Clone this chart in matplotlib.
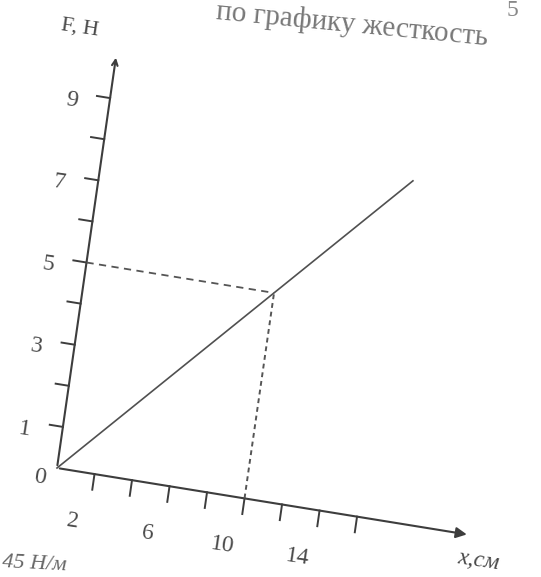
import numpy as np
import matplotlib
matplotlib.use("Agg")
import matplotlib.pyplot as plt
from matplotlib.transforms import Affine2D
from matplotlib.patches import FancyArrowPatch

# --- data (x in cm, F in N) ---
x_line = [0, 16.4]
F_line = [0, 8.2]
x_point = 10
F_point = 5
x_ticks = [2, 4, 6, 8, 10, 12, 14, 16]
x_ticklabels = ['2', '6', '10', '14']
F_ticks = [1, 2, 3, 4, 5, 6, 7, 8, 9]
F_ticklabels = ['1', '3', '5', '7', '9']
x_max = 22.0
F_max = 10.05

ink = '#3d3d3d'
txt = '#4a4a4a'
serif = 'Liberation Serif'

fig = plt.figure(figsize=(5.41, 5.77), dpi=100)
fig.patch.set_facecolor('white')
ax = fig.add_axes([0, 0, 1, 1])
ax.set_xlim(0, 541)
ax.set_ylim(577, 0)
ax.axis('off')

# skewed (scanned) chart frame: (x cm, F N) -> page pixels
ex = 19.0 * np.array([0.987, 0.160])
eF = np.array([5.9, -41.1])
org = (57, 468)
T = Affine2D(np.array([[ex[0], eF[0], org[0]],
                       [ex[1], eF[1], org[1]],
                       [0, 0, 1]])) + ax.transData

# axes with arrows
ax.add_patch(FancyArrowPatch((0, 0), (x_max, 0), transform=T, arrowstyle='-|>',
                             mutation_scale=16, lw=1.5, color=ink))
ax.add_patch(FancyArrowPatch((0, 0), (0, F_max), transform=T, arrowstyle='->',
                             mutation_scale=10, lw=1.5, color=ink))

# ticks
for v in x_ticks:
    ax.plot([v, v], [0, -0.38], transform=T, color=ink, lw=1.4)
for v in F_ticks:
    ax.plot([0, -0.7], [v, v], transform=T, color=ink, lw=1.4)

rot = -8.5
for s in x_ticklabels:
    ax.text(float(s) - 0.8, -1.2, s, transform=T, ha='center', va='center',
            fontsize=17, family=serif, color=txt, rotation=rot)
for s in F_ticklabels:
    ax.text(-2.0, float(s) - 0.2, s, transform=T, ha='center', va='center',
            fontsize=17, family=serif, color=txt, rotation=rot)
ax.text(-0.8, -0.3, '0', transform=T, ha='center', va='center',
        fontsize=17, family=serif, color=txt, rotation=rot)

ax.text(-2.1, 10.55, 'F, H', transform=T, ha='center', va='center',
        fontsize=16, family=serif, color=txt, rotation=rot)
ax.text(21.5, -0.66, 'x,см', transform=T, ha='left', va='center',
        fontsize=17, family=serif, style='italic', color=txt, rotation=rot)

# graph line and dashed guides
ax.plot(x_line, F_line, transform=T, color='#505050', lw=1.2)
ax.plot([0, x_point], [F_point, F_point], transform=T, color='#555555', lw=1.3,
        dashes=(4, 3))
ax.plot([x_point, x_point], [0, F_point], transform=T, color='#555555', lw=1.4,
        dashes=(2.5, 2))

# fragments of the page text around the figure
ax.text(216, 12, 'по графику жесткость', ha='left', va='center', fontsize=21,
        family=serif, color='#777777', rotation=-5.5, rotation_mode='anchor')
ax.text(512, 10, '5', ha='center', va='center', fontsize=17,
        family=serif, color='#888888')
ax.text(2, 564, '45 Н/м', ha='left', va='center', fontsize=16,
        family=serif, style='italic', color='#666666', rotation=-3)

fig.savefig('out.png', dpi=100, facecolor='white')
